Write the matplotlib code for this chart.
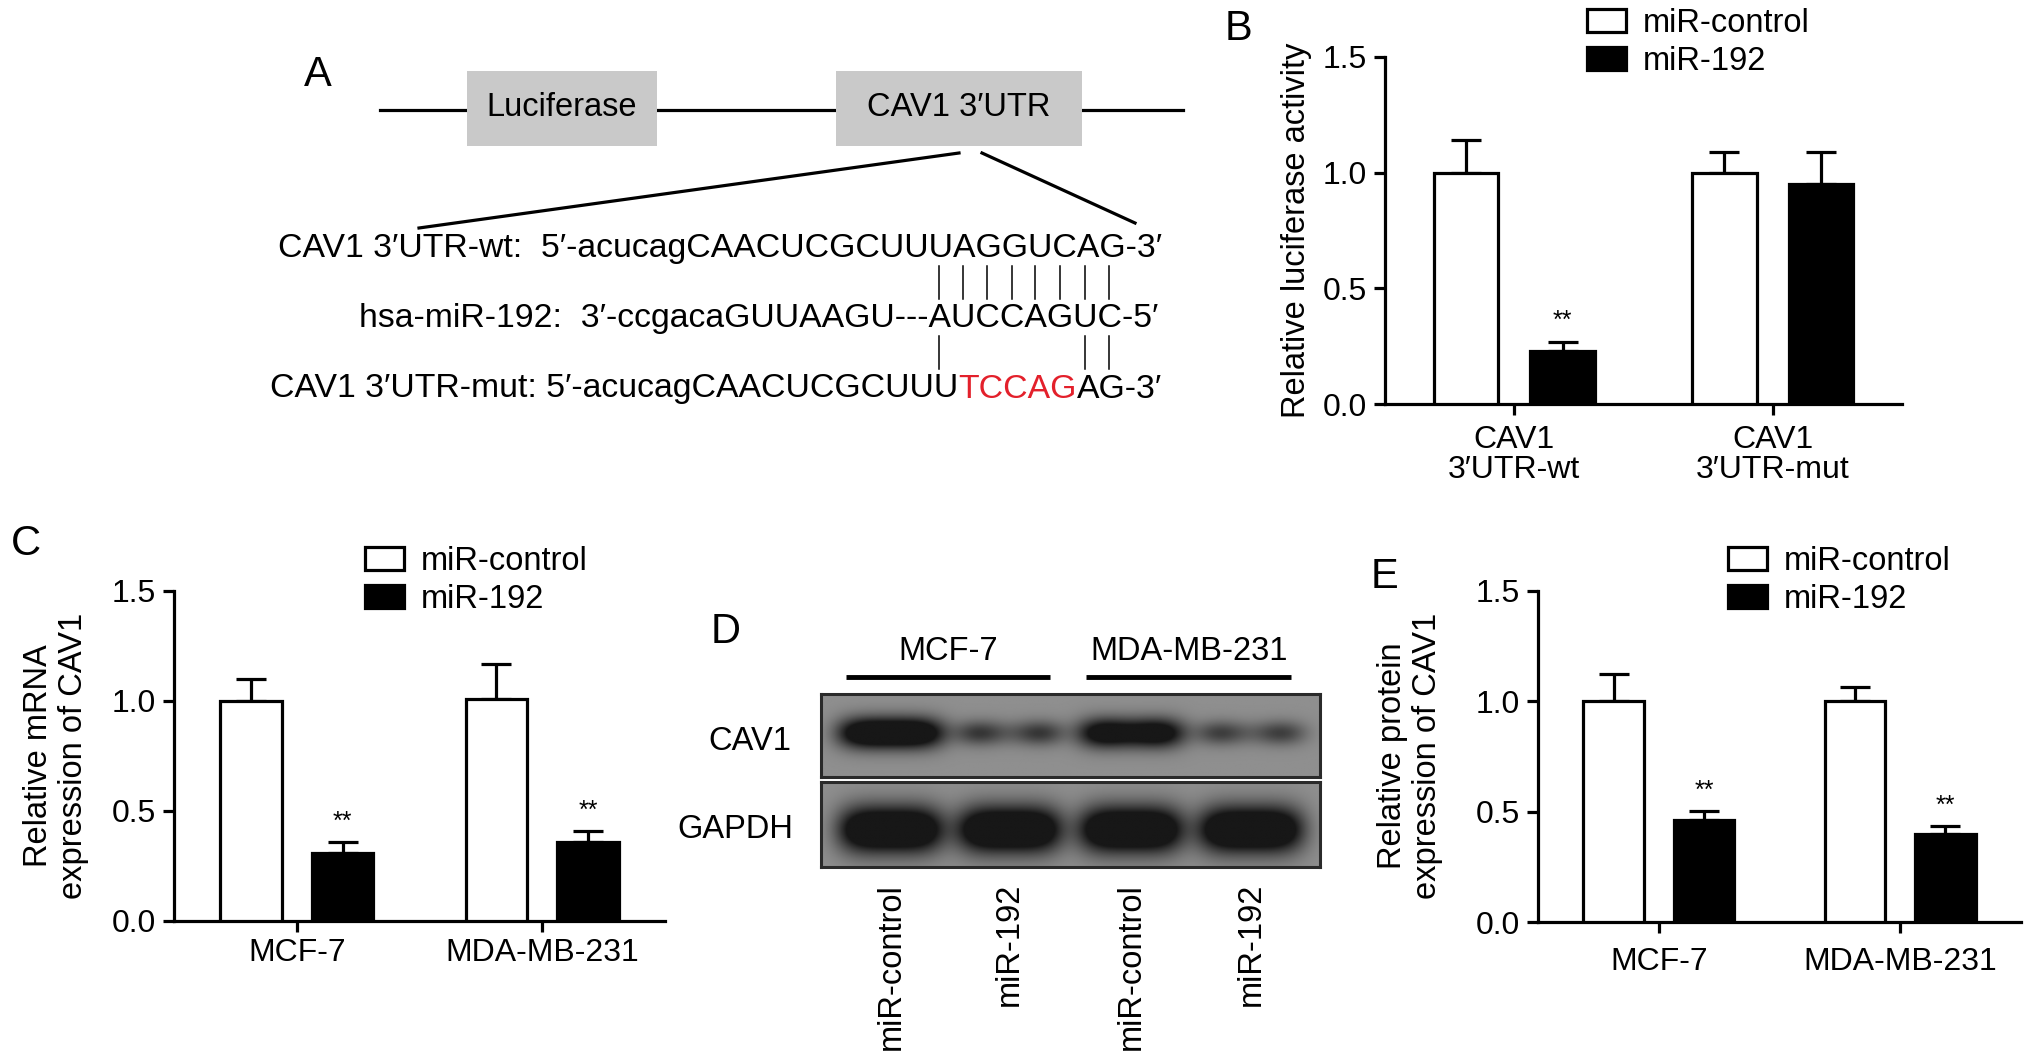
import numpy as np
import matplotlib
matplotlib.use("Agg")
import matplotlib.pyplot as plt
from matplotlib.patches import Rectangle, Patch
from matplotlib.font_manager import FontProperties

plt.rcParams['font.family'] = ['Liberation Sans', 'DejaVu Sans']

W, H = 2032, 1064

# ---------------- data ----------------
legend_labels = ["miR-control", "miR-192"]

# B: luciferase reporter
groups_b = ["CAV1\n3′UTR-wt", "CAV1\n3′UTR-mut"]
ctrl_b = [1.0, 1.0]
ctrl_b_err = [0.14, 0.09]
mir_b = [0.23, 0.95]
mir_b_err = [0.04, 0.14]
sig_b = ["**", ""]

# C: mRNA
cells = ["MCF-7", "MDA-MB-231"]
ctrl_c = [1.0, 1.01]
ctrl_c_err = [0.10, 0.16]
mir_c = [0.31, 0.36]
mir_c_err = [0.05, 0.05]
sig_c = ["**", "**"]

# E: protein
ctrl_e = [1.0, 1.0]
ctrl_e_err = [0.125, 0.066]
mir_e = [0.46, 0.40]
mir_e_err = [0.043, 0.035]
sig_e = ["**", "**"]

# D: western blot
blot_lanes = ["miR-control", "miR-192", "miR-control", "miR-192"]
blot_groups = ["MCF-7", "MDA-MB-231"]
cav1_band = [1.0, 0.55, 0.92, 0.5]
cav1_dip = [0.0, 0.5, 0.15, 0.5]
gapdh_band = [1.0, 1.0, 1.0, 1.0]

# A: construct / sequences
wt_seq = "CAV1 3′UTR-wt:  5′-acucagCAACUCGCUUUAGGUCAG-3′"
mir_seq = "hsa-miR-192:  3′-ccgacaGUUAAGU---AUCCAGUC-5′"
mut_parts = ["CAV1 3′UTR-mut: 5′-acucagCAACUCGCUUU", "TCCAG", "AG-3′"]
seed = "AUCCAGUC"
pair_wt = [1, 1, 1, 1, 1, 1, 1, 1]
pair_mut = [1, 0, 0, 0, 0, 0, 1, 1]

fig = plt.figure(figsize=(W / 100, H / 100), dpi=100)
LW = 2.3
FS = 23.5


def px_axes(left, top, right, bottom):
    return fig.add_axes([left / W, 1 - bottom / H, (right - left) / W, (bottom - top) / H])


def bar_panel(rect, ctrl, ctrl_err, mir, mir_err, sig, labels, legend_at, xpad):
    ax = px_axes(*rect)
    x = np.arange(len(labels))
    off, w = 0.187, 0.25
    ax.bar(x - off, ctrl, w, color='white', edgecolor='black', linewidth=LW, zorder=3)
    ax.bar(x + off, mir, w, color='black', edgecolor='black', linewidth=LW, zorder=3)
    for xs, v, e in ((x - off, ctrl, ctrl_err), (x + off, mir, mir_err)):
        ax.errorbar(xs, v, yerr=[np.zeros(len(v)), e], fmt='none', ecolor='black',
                    elinewidth=LW, capsize=11, capthick=LW, zorder=2)
    for xi, v, e, s in zip(x + off, mir, mir_err, sig):
        if s:
            ax.annotate(s, (xi, v + e), xytext=(0, 6), textcoords='offset points',
                        ha='center', va='bottom', fontsize=18)
    ax.set_xlim(-0.5, 1.5)
    ax.set_ylim(0, 1.5)
    ax.set_yticks([0, 0.5, 1.0, 1.5])
    ax.set_yticklabels(['0.0', '0.5', '1.0', '1.5'])
    ax.set_xticks(x)
    ax.set_xticklabels(labels)
    for t in ax.get_xticklabels():
        t.set_linespacing(1.0)
    for sp in ['top', 'right']:
        ax.spines[sp].set_visible(False)
    for sp in ['left', 'bottom']:
        ax.spines[sp].set_linewidth(LW)
    ax.tick_params(width=LW, length=8, labelsize=FS - 0.5)
    ax.tick_params(axis='x', pad=xpad)
    ax.tick_params(axis='y', pad=5)
    ax.patch.set_alpha(0)
    handles = [Patch(facecolor='white', edgecolor='black', linewidth=LW),
               Patch(facecolor='black', edgecolor='black', linewidth=LW)]
    ax.legend(handles, legend_labels, loc='upper left',
              bbox_to_anchor=(legend_at[0] / W, 1 - legend_at[1] / H),
              bbox_transform=fig.transFigure, frameon=False, fontsize=FS,
              handlelength=1.2, handleheight=0.7, handletextpad=0.5,
              labelspacing=0.22, borderpad=0, borderaxespad=0)
    return ax


bar_panel((1385, 57, 1902, 404), ctrl_b, ctrl_b_err, mir_b, mir_b_err, sig_b, groups_b, (1587, 8), 7)
bar_panel((174, 591, 665, 921), ctrl_c, ctrl_c_err, mir_c, mir_c_err, sig_c, cells, (365, 546), 4)
bar_panel((1538, 591, 2021, 922), ctrl_e, ctrl_e_err, mir_e, mir_e_err, sig_e, cells, (1728, 546), 10)

# ---------------- D: blot strips ----------------
blot_l, blot_r = 821, 1320
lanes = np.array([0.14, 0.378, 0.622, 0.862])


def blot_strip(top, bottom, strength, dip, yc, hh):
    ax = px_axes(blot_l, top, blot_r, bottom)
    xs = np.linspace(0, 1, 600)
    ys = np.linspace(0, 1, 120)
    X, Y = np.meshgrid(xs, ys)
    dark = np.zeros_like(X)
    for xc, s, d in zip(lanes, strength, dip):
        bx = np.exp(-np.abs((X - xc) / 0.105) ** 4)
        shape = 1 - d * np.exp(-((X - xc) / 0.05) ** 2)
        h = hh * (0.55 + 0.45 * s)
        by = np.exp(-((Y - yc) / h) ** 2)
        dark += s * shape * bx * by
    img = 0.56 - 0.47 * np.clip(dark * 1.7, 0, 1)
    ax.imshow(img, extent=[0, 1, 0, 1], cmap='gray', vmin=0, vmax=1, aspect='auto',
              origin='lower', interpolation='bilinear')
    ax.set_xticks([])
    ax.set_yticks([])
    for sp in ax.spines.values():
        sp.set_linewidth(2.2)
        sp.set_color('#2a2a2a')
    return ax


blot_strip(694, 777, cav1_band, cav1_dip, 0.53, 0.19)
blot_strip(782, 867, gapdh_band, [0, 0, 0, 0], 0.44, 0.28)

# ---------------- overlay (A, D labels, panel letters) ----------------
ov = fig.add_axes([0, 0, 1, 1])
ov.set_xlim(0, W)
ov.set_ylim(H, 0)
ov.axis('off')

renderer = fig.canvas.get_renderer()
fs_seq = 24.3
fp = FontProperties(family=['Liberation Sans', 'DejaVu Sans'], size=fs_seq)


def tw(s):
    return renderer.get_text_width_height_descent(s, fp, ismath=False)[0]


def char_center(s, i):
    right = tw(s[:i + 1])
    left = right - tw(s[i])
    return (left + right) / 2

# construct
ov.plot([380, 1183], [110, 110], color='black', lw=LW, zorder=1)
ov.add_patch(Rectangle((467, 71), 190, 75, fc='#c9c9c9', ec='none', zorder=2))
ov.add_patch(Rectangle((836, 71), 246, 75, fc='#c9c9c9', ec='none', zorder=2))
ov.text(562, 108, "Luciferase", ha='center', va='center', fontsize=FS, zorder=3)
ov.text(959, 108, "CAV1 3′UTR", ha='center', va='center', fontsize=FS, zorder=3)
ov.plot([959, 419], [153, 228], color='black', lw=LW)
ov.plot([982, 1135], [153, 223], color='black', lw=LW)

row_y = [249, 318, 389]
right_x = 1162
wt_x0 = right_x - tw(wt_seq)
ov.text(wt_x0, row_y[0], wt_seq, ha='left', va='center', fontsize=fs_seq)
mir_x0 = right_x - 4 - tw(mir_seq)
ov.text(mir_x0, row_y[1], mir_seq, ha='left', va='center', fontsize=fs_seq)

full_mut = "".join(mut_parts)
mut_x0 = right_x - tw(full_mut)
acc = ""
for part, col in zip(mut_parts, ['black', '#e3202b', 'black']):
    acc += part
    ov.text(mut_x0 + tw(acc) - tw(part), row_y[2], part, ha='left', va='center',
            fontsize=fs_seq, color=col)

s0 = mir_seq.index(seed)
for i in range(len(seed)):
    cx = mir_x0 + char_center(mir_seq, s0 + i)
    if pair_wt[i]:
        ov.plot([cx, cx], [266, 299], color='black', lw=1.1)
    if pair_mut[i]:
        ov.plot([cx, cx], [336, 369], color='black', lw=1.1)

# D labels
lane_px = blot_l + lanes * (blot_r - blot_l)
for g, name in enumerate(blot_groups):
    a, b = lane_px[2 * g] - 45, lane_px[2 * g + 1] + 40
    ov.plot([a, b], [677, 677], color='black', lw=3.5, solid_capstyle='butt')
    ov.text((a + b) / 2, 651, name, ha='center', va='center', fontsize=FS)
ov.text(791, 741, "CAV1", ha='right', va='center', fontsize=FS)
ov.text(793, 829, "GAPDH", ha='right', va='center', fontsize=FS)
for xp, name in zip(lane_px, blot_lanes):
    ov.text(xp, 883, name, rotation=90, ha='center', va='top', fontsize=FS)

# y labels
ov.text(1296, 230, "Relative luciferase activity", rotation=90, ha='center', va='center', fontsize=FS)
ov.text(56, 756, "Relative mRNA\nexpression of CAV1", rotation=90, ha='center', va='center',
        fontsize=FS, linespacing=1.15)
ov.text(1410, 756, "Relative protein\nexpression of CAV1", rotation=90, ha='center', va='center',
        fontsize=FS, linespacing=1.15)

# panel letters
for letter, (lx, ly) in zip("ABCDE", [(318, 75), (1238, 29), (26, 544), (726, 632), (1384, 577)]):
    ov.text(lx, ly, letter, ha='center', va='center', fontsize=30)

fig.savefig("out.png", dpi=100)
